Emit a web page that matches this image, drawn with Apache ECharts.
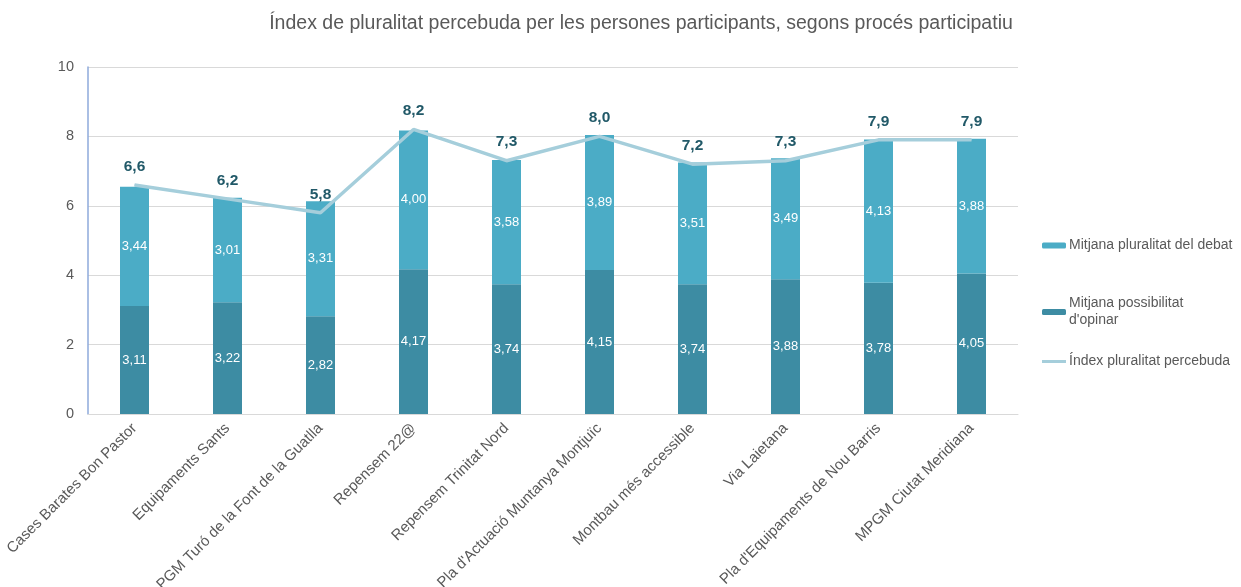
<!DOCTYPE html>
<html>
<head>
<meta charset="utf-8">
<script src="https://cdn.jsdelivr.net/npm/echarts@6/dist/echarts.min.js"></script>
<style>
  html, body { margin: 0; padding: 0; background: #fff; }
  #main { width: 1241px; height: 587px; }
</style>
</head>
<body>
<div id="main"></div>
<script>
// processos participatius
var categories = [
  'Cases Barates Bon Pastor',
  'Equipaments Sants',
  'PGM Turó de la Font de la Guatlla',
  'Repensem 22@',
  'Repensem Trinitat Nord',
  "Pla d'Actuació Muntanya Montjuïc",
  'Montbau més accessible',
  'Via Laietana',
  "Pla d'Equipaments de Nou Barris",
  'MPGM Ciutat Meridiana'
];
var opinar = [3.11, 3.22, 2.82, 4.17, 3.74, 4.15, 3.74, 3.88, 3.78, 4.05];
var debat = [3.44, 3.01, 3.31, 4.00, 3.58, 3.89, 3.51, 3.49, 4.13, 3.88];
var index = [6.6, 6.2, 5.8, 8.2, 7.3, 8.0, 7.2, 7.3, 7.9, 7.9];

var font = 'Liberation Sans, Arial, sans-serif';
function coma(v, d) { return v.toFixed(d).replace('.', ','); }

var chart = echarts.init(document.getElementById('main'));
var option = {
  animation: false,
  textStyle: { fontFamily: font },
  title: {
    text: "Índex de pluralitat percebuda per les persones participants, segons procés participatiu",
    left: 636, top: 9, textAlign: 'center',
    textStyle: { fontSize: 19.5, fontWeight: 'normal', color: '#595959', fontFamily: font }
  },
  legend: [
    { data: ['Mitjana pluralitat del debat'], left: 1037, top: 232 },
    { data: ["Mitjana possibilitat d'opinar"], left: 1037, top: 290 },
    { data: [{ name: 'Índex pluralitat percebuda', icon: 'rect', itemStyle: { color: '#a5cedb' } }], left: 1037, top: 348, itemHeight: 3 }
  ].map(function (l) {
    l.orient = 'vertical';
    l.itemWidth = 24; if (!l.itemHeight) l.itemHeight = 6; l.itemGap = 10;
    l.textStyle = { fontSize: 14, color: '#595959', fontFamily: font, lineHeight: 17, padding: [0, 0, 0, -2] };
    l.formatter = function (n) { return n === "Mitjana possibilitat d'opinar" ? "Mitjana possibilitat\nd'opinar" : n; };
    return l;
  }),
  grid: { left: 88, right: 223, top: 67, bottom: 173, outerBoundsMode: 'none', containLabel: false },
  xAxis: {
    type: 'category', data: categories,
    axisLine: { lineStyle: { color: '#d9d9d9' } },
    axisTick: { show: false },
    axisLabel: { rotate: 45, color: '#595959', fontSize: 15, interval: 0, margin: 12 }
  },
  yAxis: {
    type: 'value', min: 0, max: 10, interval: 2,
    axisLine: { show: true, lineStyle: { color: '#8eaadb', width: 1.5 } },
    axisLabel: { color: '#595959', fontSize: 14.5, margin: 14 },
    splitLine: { lineStyle: { color: '#d9d9d9' } }
  },
  series: [
    {
      name: "Mitjana possibilitat d'opinar", type: 'bar', stack: 't', barWidth: 29,
      data: opinar,
      itemStyle: { color: '#3d8ca3' },
      label: { show: true, position: 'inside', color: '#fff', fontSize: 13, formatter: function (p) { return coma(p.value, 2); } }
    },
    {
      name: 'Mitjana pluralitat del debat', type: 'bar', stack: 't', barWidth: 29,
      data: debat,
      itemStyle: { color: '#4bacc6' },
      label: { show: true, position: 'inside', color: '#fff', fontSize: 13, formatter: function (p) { return coma(p.value, 2); } }
    },
    {
      name: 'Índex pluralitat percebuda', type: 'line', data: index, z: 5,
      symbol: 'circle', symbolSize: 1, showSymbol: true,
      lineStyle: { color: '#a5cedb', width: 3.5 },
      itemStyle: { color: '#a5cedb' },
      label: { show: true, position: 'top', distance: 10, color: '#215968', fontSize: 15.5, fontWeight: 'bold', formatter: function (p) { return coma(p.value, 1); } }
    }
  ]
};
chart.setOption(option);
</script>
</body>
</html>
